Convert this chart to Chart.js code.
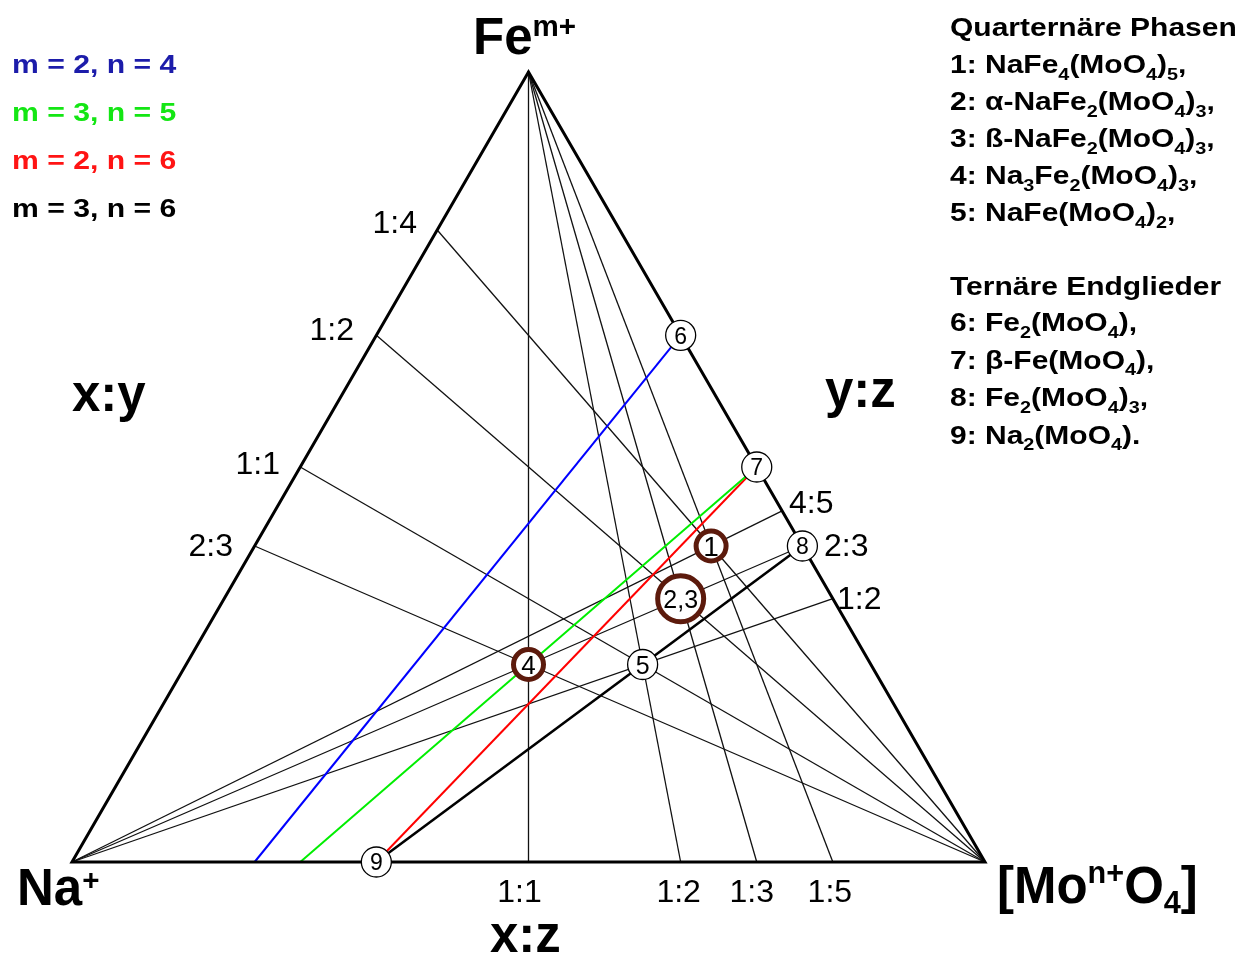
<!DOCTYPE html>
<html>
<head>
<meta charset="utf-8">
<script src="https://cdn.jsdelivr.net/npm/chart.js@4/dist/chart.umd.min.js"></script>
<style>
  html, body { margin: 0; padding: 0; background: #fff; }
  canvas { display: block; }
</style>
</head>
<body>
<canvas id="c" width="1243" height="958"></canvas>
<script>
// Compositions are molar amounts [Na, Fe, Mo] in the system Na+ / Fe(m+) / [Mo(n+)O4]

// Phases
const phaseLabels = ['1', '2,3', '4', '5', '6', '7', '8', '9'];
const phaseNa = [1, 1, 3, 1, 0, 0, 0, 2];
const phaseFe = [4, 2, 2, 1, 2, 1, 2, 0];
const phaseMo = [5, 3, 3, 2, 1, 1, 3, 1];

// Tie lines from the Na+ corner to the Fe:Mo edge (y:z)
const yzLabels = ['4:5', '2:3', '1:2'];
const yzFe = [4, 2, 1];
const yzMo = [5, 3, 2];

// Tie lines from the [MoO4] corner to the Na:Fe edge (x:y)
const xyLabels = ['1:4', '1:2', '1:1', '2:3'];
const xyNa = [1, 1, 1, 3];
const xyFe = [4, 2, 1, 2];

// Tie lines from the Fe corner to the Na:Mo edge (x:z)
const xzLabels = ['1:1', '1:2', '1:3', '1:5'];
const xzNa = [1, 1, 1, 1];
const xzMo = [1, 2, 3, 5];

// Charge-neutral sections for the valence pairs (m, n)
const sectionLabels = ['m = 2, n = 4', 'm = 3, n = 5', 'm = 2, n = 6', 'm = 3, n = 6'];
const sectionStart = [[4, 0, 1], [3, 0, 1], [2, 0, 1], [2, 0, 1]];
const sectionEnd = [[0, 2, 1], [0, 1, 1], [0, 1, 1], [0, 2, 3]];

// Phase list text
const quaternaryTitle = 'Quarternäre Phasen';
const quaternaryLines = [
  '1: NaFe_{4}(MoO_{4})_{5},',
  '2: α-NaFe_{2}(MoO_{4})_{3},',
  '3: ß-NaFe_{2}(MoO_{4})_{3},',
  '4: Na_{3}Fe_{2}(MoO_{4})_{3},',
  '5: NaFe(MoO_{4})_{2},'
];
const ternaryTitle = 'Ternäre Endglieder';
const ternaryLines = [
  '6: Fe_{2}(MoO_{4}),',
  '7: β-Fe(MoO_{4}),',
  '8: Fe_{2}(MoO_{4})_{3},',
  '9: Na_{2}(MoO_{4}).'
];

// ---- styling ----
const SQ3 = Math.sqrt(3);
const FONT = '"Liberation Sans", Arial, Helvetica, sans-serif';
const sectionColors = ['#0000ff', '#00ee00', '#ff0000', '#000000'];
const sectionTextColors = ['#1c1caa', '#14e614', '#ff1414', '#000000'];
const sectionWidths = [2, 2, 2, 2.6];
const ringColor = '#5c1a0c';
const ringPhases = { '1': 15, '2,3': 23, '4': 15 };
const labelFont = { '1': 28, '2,3': 25, '4': 26, '5': 25, '6': 23, '7': 23, '8': 23, '9': 23 };

// barycentric -> cartesian (Na at origin, Mo at x = 1, Fe at apex)
function tern(na, fe, mo) {
  const s = na + fe + mo;
  return { x: (mo + fe / 2) / s, y: (fe * SQ3 / 2) / s };
}

function lineDs(points, color, width, order) {
  return {
    data: points, showLine: true, borderColor: color, borderWidth: width,
    pointRadius: 0, pointHoverRadius: 0, clip: false, order: order,
    borderCapStyle: 'butt', borderJoinStyle: 'miter', tension: 0, fill: false
  };
}

const NA = tern(1, 0, 0), FE = tern(0, 1, 0), MO = tern(0, 0, 1);
const datasets = [];

// outer triangle
datasets.push(lineDs([NA, FE, MO, NA, FE], '#000', 3, 2));

// tie lines
yzLabels.forEach((_, i) => datasets.push(lineDs([NA, tern(0, yzFe[i], yzMo[i])], '#111', 1.3, 4)));
xyLabels.forEach((_, i) => datasets.push(lineDs([MO, tern(xyNa[i], xyFe[i], 0)], '#111', 1.3, 4)));
xzLabels.forEach((_, i) => datasets.push(lineDs([FE, tern(xzNa[i], 0, xzMo[i])], '#111', 1.3, 4)));

// charge-neutral sections
sectionLabels.forEach((_, i) => datasets.push(lineDs(
  [tern(...sectionStart[i]), tern(...sectionEnd[i])], sectionColors[i], sectionWidths[i], 3)));

// phase markers
const phasePoints = phaseLabels.map((_, i) => tern(phaseNa[i], phaseFe[i], phaseMo[i]));
datasets.push({
  data: phasePoints, showLine: false, clip: false, order: 0,
  pointRadius: phaseLabels.map(l => ringPhases[l] || 15),
  pointHoverRadius: phaseLabels.map(l => ringPhases[l] || 15),
  pointBackgroundColor: '#ffffff',
  pointBorderColor: phaseLabels.map(l => ringPhases[l] ? ringColor : '#000'),
  pointBorderWidth: phaseLabels.map(l => ringPhases[l] ? 5 : 1.3),
  pointHoverBorderWidth: phaseLabels.map(l => ringPhases[l] ? 5 : 1.3)
});

// rich text: "_{..}" subscript, "^{..}" superscript
function parseRich(str) {
  const segs = [];
  const re = /([_^])\{([^}]*)\}/g;
  let last = 0, m;
  while ((m = re.exec(str)) !== null) {
    if (m.index > last) segs.push([str.slice(last, m.index), 0]);
    segs.push([m[2], m[1] === '_' ? -1 : 1]);
    last = re.lastIndex;
  }
  if (last < str.length) segs.push([str.slice(last), 0]);
  return segs;
}

function drawRich(ctx, x, y, str, size, o) {
  const opt = Object.assign({ weight: 'bold', color: '#000', sx: 1, small: 0.66, sup: 0.36, sub: 0.26 }, o || {});
  ctx.save();
  ctx.translate(x, y);
  ctx.scale(opt.sx, 1);
  ctx.fillStyle = opt.color;
  ctx.textAlign = 'left';
  ctx.textBaseline = 'alphabetic';
  let cx = 0;
  for (const [t, k] of parseRich(str)) {
    const s = k === 0 ? size : size * opt.small;
    ctx.font = `${opt.weight} ${s}px ${FONT}`;
    const dy = k === 1 ? -size * opt.sup : (k === -1 ? size * opt.sub : 0);
    ctx.fillText(t, cx, dy);
    cx += ctx.measureText(t).width;
  }
  ctx.restore();
}

function plainText(ctx, t, x, y, size, align, weight, color) {
  ctx.save();
  ctx.font = `${weight || 'normal'} ${size}px ${FONT}`;
  ctx.fillStyle = color || '#000';
  ctx.textAlign = align || 'left';
  ctx.textBaseline = 'alphabetic';
  ctx.fillText(t, x, y);
  ctx.restore();
}

const annotations = {
  id: 'annotations',
  afterDatasetsDraw(chart) {
    const ctx = chart.ctx;
    const sx = chart.scales.x, sy = chart.scales.y;
    const px = p => ({ x: sx.getPixelForValue(p.x), y: sy.getPixelForValue(p.y) });

    // phase numbers inside markers
    phaseLabels.forEach((l, i) => {
      const p = px(phasePoints[i]);
      const fs = labelFont[l];
      plainText(ctx, l, p.x, p.y + fs * 0.36, fs, 'center');
    });

    // corner labels
    drawRich(ctx, 473, 54, 'Fe^{m+}', 51, { small: 0.58, sup: 0.36 });
    drawRich(ctx, 17, 905, 'Na^{+}', 51, { small: 0.58, sup: 0.30 });
    drawRich(ctx, 997, 903, '[Mo^{n+}O_{4}]', 51, { small: 0.6, sup: 0.40, sub: 0.20 });

    // edge ratio names
    plainText(ctx, 'x:y', 72, 411, 51, 'left', 'bold');
    plainText(ctx, 'y:z', 825, 407, 51, 'left', 'bold');
    plainText(ctx, 'x:z', 490, 952, 51, 'left', 'bold');

    // ratio labels along the edges
    const xyPos = [[417, 233], [354, 340], [280, 474], [233, 556]];
    xyLabels.forEach((l, i) => plainText(ctx, l, xyPos[i][0], xyPos[i][1], 32, 'right'));
    const yzPos = [[789, 513], [824, 556], [837, 609]];
    yzLabels.forEach((l, i) => plainText(ctx, l, yzPos[i][0], yzPos[i][1], 32, 'left'));
    const xzShift = [-9, -2, -5, -3];
    xzLabels.forEach((l, i) => {
      const p = px(tern(xzNa[i], 0, xzMo[i]));
      plainText(ctx, l, p.x + xzShift[i], 902, 32, 'center');
    });

    // section legend
    sectionLabels.forEach((l, i) => drawRich(ctx, 12, 73 + i * 48, l, 26, { color: sectionTextColors[i], sx: 1.16 }));

    // phase lists
    drawRich(ctx, 950, 36, quaternaryTitle, 25, { sx: 1.2 });
    quaternaryLines.forEach((l, i) => drawRich(ctx, 950, 73 + i * 37, l, 25, { sx: 1.2 }));
    drawRich(ctx, 950, 295, ternaryTitle, 25, { sx: 1.2 });
    ternaryLines.forEach((l, i) => drawRich(ctx, 950, 331 + i * 37.5, l, 25, { sx: 1.2 }));
  }
};

new Chart(document.getElementById('c'), {
  type: 'scatter',
  data: { datasets },
  options: {
    responsive: false,
    animation: false,
    events: [],
    layout: { padding: { left: 72, right: 258, top: 72, bottom: 96 } },
    scales: {
      x: { type: 'linear', min: 0, max: 1, display: false },
      y: { type: 'linear', min: 0, max: SQ3 / 2, display: false }
    },
    plugins: { legend: { display: false }, tooltip: { enabled: false } }
  },
  plugins: [annotations]
});
</script>
</body>
</html>
